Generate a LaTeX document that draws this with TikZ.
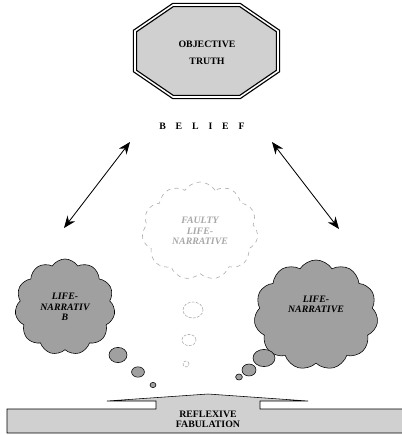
\documentclass[tikz,border=0pt]{standalone}
\usepackage{fontspec}
\setmainfont{Liberation Serif}
\usepackage{tikz}
\usetikzlibrary{arrows.meta,positioning,shapes.geometric,shapes.symbols}
\definecolor{rbgray}{HTML}{D0D0D0}
\definecolor{rbdark}{HTML}{A0A0A0}
\definecolor{rbfaint}{HTML}{A8A8A8}

\begin{document}
\begin{tikzpicture}[
    x=0.025cm, y=-0.025cm,
    capsbox/.style={align=center, inner sep=1pt,
                    font=\fontsize{7}{8}\selectfont\bfseries},
    lifecloud/.style={cloud, cloud puffs=11, cloud puff arc=115,
                      cloud ignores aspect, draw=black, fill=rbdark,
                      thin, align=center, inner sep=0pt,
                      font=\fontsize{7}{7.5}\selectfont\bfseries\itshape},
    faultycloud/.style={lifecloud, draw=rbfaint, fill=white, dashed,
                        text=rbfaint},
    bubble/.style={ellipse, draw=black, fill=rbdark, thin, inner sep=0pt},
    faultybubble/.style={ellipse, draw=rbfaint, dashed, inner sep=0pt,
                         dash pattern=on 2pt off 1pt},
    arr/.style={{Stealth[length=3mm, width=2.4mm]}-{Stealth[length=3mm, width=2.4mm]}, semithick}
]
\useasboundingbox (0,0) rectangle (402,435);

% objective truth
\draw[fill=rbgray, line width=0.9pt, double=white, double distance=1.1pt]
    (173,5) -- (240,5) -- (278,31) -- (278,71) -- (240,97) -- (173,97)
    -- (135,71) -- (135,31) -- cycle;
\node[capsbox, font=\fontsize{7}{12}\selectfont\bfseries] (truth) at (207,53) {OBJECTIVE\\TRUTH};
\node[capsbox] (belief) at (202,126) {B\quad E\quad L\quad I\quad E\quad F};

% clouds
\node[faultycloud, minimum width=2.9cm, minimum height=2.45cm] (faulty) at (200,231)
    {FAULTY\\LIFE-\\NARRATIVE};
\node[lifecloud, minimum width=2.5cm, minimum height=2.4cm] (leftlife) at (65,307)
    {LIFE-\\NARRATIV\\B};
\node[lifecloud, minimum width=3.1cm, minimum height=2.75cm] (rightlife) at (316,315)
    {LIFE-\\NARRATIVE\\~\\~};

% thought bubbles
\node[faultybubble, minimum width=0.5cm, minimum height=0.4cm] (fb1) at (193,310) {};
\node[faultybubble, minimum width=0.35cm, minimum height=0.28cm] (fb2) at (189,340) {};
\node[faultybubble, minimum width=0.15cm, minimum height=0.15cm] (fb3) at (186,364) {};
\node[bubble, minimum width=0.45cm, minimum height=0.38cm] (lb1) at (118,355) {};
\node[bubble, minimum width=0.32cm, minimum height=0.26cm] (lb2) at (138,372) {};
\node[bubble, minimum width=0.15cm, minimum height=0.13cm] (lb3) at (153,385) {};
\node[bubble, minimum width=0.55cm, minimum height=0.43cm] (rb1) at (264,358) {};
\node[bubble, minimum width=0.35cm, minimum height=0.3cm] (rb2) at (249,370) {};
\node[bubble, minimum width=0.17cm, minimum height=0.15cm] (rb3) at (239,377) {};

% belief arrows
\coordinate (ltop) at (130,142);
\coordinate (lbot) at (64,228);
\coordinate (rtop) at (272,142);
\coordinate (rbot) at (339,229);
\draw[arr] (ltop) -- (lbot);
\draw[arr] (rtop) -- (rbot);

% reflexive fabulation
\draw[fill=rbgray, thin]
    (7,409) -- (156,409) -- (156,401) -- (107,401) -- (208,394) -- (308,401)
    -- (260,401) -- (260,409) -- (404,409) -- (404,433) -- (7,433) -- cycle;
\node[capsbox, font=\fontsize{7}{7}\selectfont\bfseries] (fabulation) at (208,419) {REFLEXIVE\\FABULATION};

\end{tikzpicture}
\end{document}
